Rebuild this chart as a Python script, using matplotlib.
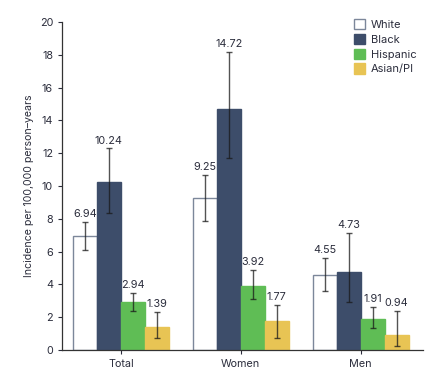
import numpy as np
import matplotlib.pyplot as plt

plt.rcParams['font.family'] = ['Inter', 'DejaVu Sans']

groups = ['Total', 'Women', 'Men']
races = ['White', 'Black', 'Hispanic', 'Asian/PI']

rates = {
    'White':    [6.94, 9.25, 4.55],
    'Black':    [10.24, 14.72, 4.73],
    'Hispanic': [2.94, 3.92, 1.91],
    'Asian/PI': [1.39, 1.77, 0.94],
}
ci_low = {
    'White':    [6.1, 7.85, 3.6],
    'Black':    [8.35, 11.7, 2.93],
    'Hispanic': [2.4, 3.1, 1.34],
    'Asian/PI': [0.73, 0.73, 0.24],
}
ci_high = {
    'White':    [7.8, 10.7, 5.6],
    'Black':    [12.3, 18.2, 7.13],
    'Hispanic': [3.5, 4.88, 2.62],
    'Asian/PI': [2.35, 2.74, 2.38],
}

face = {'White': 'white', 'Black': '#3d4d6a', 'Hispanic': '#5fbd55', 'Asian/PI': '#e8c454'}
edge = {'White': '#7c879a', 'Black': '#3d4d6a', 'Hispanic': '#5fbd55', 'Asian/PI': '#e8c454'}
text_col = '#2b2d3c'

fig = plt.figure(figsize=(4.37, 3.74), dpi=100)
ax = fig.add_axes([0.142, 0.064, 0.826, 0.877])

x = np.arange(len(groups))
w = 0.2
for i, r in enumerate(races):
    pos = x + (i - 1.5) * w
    vals = np.array(rates[r])
    lo = vals - np.array(ci_low[r])
    hi = np.array(ci_high[r]) - vals
    ax.bar(pos, vals, width=w, color=face[r], edgecolor=edge[r], linewidth=1.0,
           label=r, zorder=2)
    ax.errorbar(pos, vals, yerr=[lo, hi], fmt='none', ecolor='#1a1a1a', alpha=0.75,
                elinewidth=1.0, capsize=2.5, capthick=1.0, zorder=3)
    for p, v, top in zip(pos, vals, ci_high[r]):
        ax.annotate(f'{v:.2f}', (p, top), xytext=(0, 2), textcoords='offset points',
                    ha='center', va='bottom', fontsize=7.8, color=text_col)

ax.set_xlim(-0.49, 2.52)
ax.set_ylim(0, 20)
ax.set_yticks(range(0, 21, 2))
ax.set_xticks(x)
ax.set_xticklabels(groups)
ax.tick_params(labelsize=7.8, colors=text_col, length=3, width=0.8)
ax.set_ylabel('Incidence per 100,000 person–years', fontsize=7.6, color=text_col)
for s in ['top', 'right']:
    ax.spines[s].set_visible(False)
for s in ['left', 'bottom']:
    ax.spines[s].set_color('#333333')
    ax.spines[s].set_linewidth(0.9)
    ax.spines[s].set_zorder(4)

ax.legend(loc='upper right', bbox_to_anchor=(1.01, 1.04), frameon=False, fontsize=8,
          handlelength=1.05, handleheight=1.05, handletextpad=0.5, labelspacing=0.35,
          labelcolor=text_col)

plt.savefig('out.png', dpi=100)
